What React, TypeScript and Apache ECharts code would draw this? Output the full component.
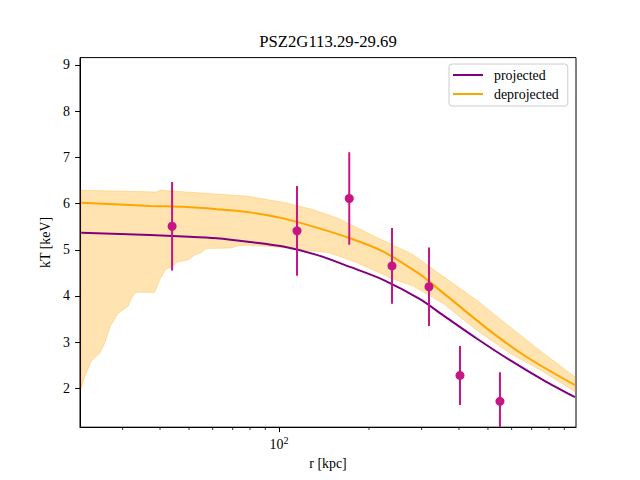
import React, { useEffect, useRef } from 'react';
import * as echarts from 'echarts';

const TITLE = 'PSZ2G113.29-29.69';
const X_NAME = 'r [kpc]';
const Y_NAME = 'kT [keV]';

// axis limits
const X_MIN = 21.6;
const X_MAX = 985;
const Y_MIN = 1.16;
const Y_MAX = 9.16;

// tick positions
const majorXTicks = [100];
const minorXTicks = [30, 40, 50, 60, 70, 80, 90, 200, 300, 400, 500, 600, 700, 800, 900];
const yTicks = [2, 3, 4, 5, 6, 7, 8, 9];

// projected temperature profile
const projR = [21.8, 37.0, 47.9, 61.9, 80.0, 103.4, 133.7, 172.8, 223.3, 296.2, 354.4, 458.4, 592.4, 765.6, 977];
const projT = [5.37, 5.32, 5.29, 5.25, 5.17, 5.07, 4.89, 4.63, 4.35, 3.93, 3.58, 3.08, 2.61, 2.18, 1.81];

// deprojected temperature profile
const deprojR = [21.8, 37.0, 47.9, 61.9, 80.0, 103.4, 133.7, 172.8, 223.3, 296.2, 319.9, 403.1, 521, 673.6, 977];
const deprojT = [6.02, 5.95, 5.93, 5.88, 5.81, 5.68, 5.48, 5.25, 4.96, 4.47, 4.3, 3.77, 3.19, 2.68, 2.07];

// deprojected uncertainty band
const bandUpperR = [21.8, 38.9, 39.9, 78.7, 104.7, 128.6, 157.9, 204.2, 280, 354.4, 458.4, 592.4, 765.6, 977];
const bandUpperT = [6.29, 6.25, 6.29, 6.16, 6.02, 5.88, 5.68, 5.32, 4.9, 4.42, 3.91, 3.33, 2.76, 2.25];
const bandLowerR = [
  21.8, 22.4, 23.5, 25.1, 26.1, 27.2, 28.9, 31.3, 32.1, 33.1, 38.4, 39.9, 41.7, 43.6, 45.9, 49.6,
  52.3, 55.0, 57.1, 69.3, 72.9, 78.7, 113.1, 122.2, 146.2, 179.6, 238.2, 280, 354.4, 458.4, 592.4,
  765.6, 977,
];
const bandLowerT = [
  2.0, 2.25, 2.58, 2.76, 2.97, 3.33, 3.62, 3.78, 3.95, 4.08, 4.08, 4.35, 4.58, 4.62, 4.74, 4.78,
  4.89, 4.94, 5.03, 5.04, 5.09, 5.1, 5.03, 4.99, 4.94, 4.74, 4.38, 4.22, 3.84, 3.26, 2.76, 2.36,
  1.93,
];

// measured spectral temperatures
const obsR = [43.9, 114.9, 171.8, 238.8, 317.5, 403.1, 548.4];
const obsT = [5.51, 5.41, 6.11, 4.65, 4.2, 2.28, 1.72];
const obsErr = [0.96, 0.97, 1.0, 0.82, 0.85, 0.64, 0.63];

const FONT = 'Liberation Serif';
const PURPLE = '#800080';
const ORANGE = '#FFA500';
const MAGENTA = '#C71585';

export default function App() {
  const ref = useRef<HTMLDivElement>(null);

  useEffect(() => {
    if (!ref.current) return;
    const chart = echarts.init(ref.current, undefined, { renderer: 'svg' });

    const option: any = {
      animation: false,
      backgroundColor: '#fff',
      textStyle: { fontFamily: FONT, color: '#000' },
      title: {
        text: TITLE,
        left: 328,
        top: 33,
        padding: 0,
        textAlign: 'center',
        textStyle: { fontFamily: FONT, fontSize: 16.7, fontWeight: 'normal', color: '#000' },
      },
      legend: {
        orient: 'vertical',
        left: 449,
        top: 64,
        padding: [3, 9, 4, 4],
        itemGap: 3,
        itemWidth: 30,
        itemHeight: 2,
        borderColor: '#cccccc',
        borderWidth: 1,
        borderRadius: 3,
        backgroundColor: 'rgba(255,255,255,0.8)',
        textStyle: { fontFamily: FONT, fontSize: 13.9, color: '#000', lineHeight: 16, padding: [0, 0, 0, 6] },
        data: [
          { name: 'projected', icon: 'rect', itemStyle: { color: PURPLE } },
          { name: 'deprojected', icon: 'rect', itemStyle: { color: ORANGE } },
        ],
      },
      grid: {
        left: 80,
        top: 57.6,
        width: 496,
        height: 369.6,
        show: true,
        borderColor: '#000',
        borderWidth: 1,
        backgroundColor: 'transparent',
        containLabel: false,
      },
      xAxis: {
        type: 'log',
        logBase: 10,
        min: X_MIN,
        max: X_MAX,
        name: X_NAME,
        nameLocation: 'middle',
        nameGap: 28,
        nameTextStyle: { fontFamily: FONT, fontSize: 13.9, color: '#000' },
        axisLine: { show: true, lineStyle: { color: '#000', width: 1 } },
        axisTick: { show: true, customValues: majorXTicks, length: 4.9, lineStyle: { color: '#000', width: 1 } },
        axisLabel: {
          customValues: majorXTicks,
          margin: 8,
          fontFamily: FONT,
          fontSize: 13.9,
          color: '#000',
          formatter: () => '{b|10}{s|2}',
          rich: {
            b: { fontFamily: FONT, fontSize: 13.9, color: '#000' },
            s: { fontFamily: FONT, fontSize: 10, color: '#000', padding: [0, 0, 8, 0] },
          },
        },
        splitLine: { show: false },
        minorTick: { show: false },
      },
      yAxis: {
        type: 'value',
        min: Y_MIN,
        max: Y_MAX,
        name: Y_NAME,
        nameLocation: 'middle',
        nameGap: 21,
        nameRotate: 90,
        nameTextStyle: { fontFamily: FONT, fontSize: 13.9, color: '#000' },
        axisLine: { show: true, lineStyle: { color: '#000', width: 1 } },
        axisTick: { show: true, customValues: yTicks, length: 4.9, lineStyle: { color: '#000', width: 1 } },
        axisLabel: {
          customValues: yTicks,
          margin: 10,
          fontFamily: FONT,
          fontSize: 13.9,
          color: '#000',
          formatter: (v: number) => String(Math.round(v)),
        },
        splitLine: { show: false },
      },
      series: [
        {
          name: 'band',
          type: 'custom',
          silent: true,
          z: 1,
          data: [[bandUpperR[0], bandUpperT[0]]],
          encode: { x: 0, y: 1 },
          renderItem: (_params: any, api: any) => {
            const pts: number[][] = [];
            for (let i = 0; i < bandUpperR.length; i++) pts.push(api.coord([bandUpperR[i], bandUpperT[i]]));
            for (let i = bandLowerR.length - 1; i >= 0; i--) pts.push(api.coord([bandLowerR[i], bandLowerT[i]]));
            return {
              type: 'polygon',
              shape: { points: pts },
              style: { fill: 'rgba(255,165,0,0.3)', stroke: 'rgba(255,165,0,0.3)', lineWidth: 1 },
            };
          },
        },
        {
          name: 'projected',
          type: 'line',
          z: 2,
          symbol: 'none',
          smooth: 0.3,
          color: PURPLE,
          lineStyle: { color: PURPLE, width: 2 },
          data: projR.map((r, i) => [r, projT[i]]),
        },
        {
          name: 'deprojected',
          type: 'line',
          z: 3,
          symbol: 'none',
          smooth: 0.3,
          color: ORANGE,
          lineStyle: { color: ORANGE, width: 2 },
          data: deprojR.map((r, i) => [r, deprojT[i]]),
        },
        {
          name: 'errors',
          type: 'custom',
          z: 4,
          clip: true,
          silent: true,
          data: obsR.map((r, i) => [r, obsT[i] - obsErr[i], obsT[i] + obsErr[i]]),
          encode: { x: 0, y: [1, 2] },
          renderItem: (_params: any, api: any) => {
            const lo = api.coord([api.value(0), api.value(1)]);
            const hi = api.coord([api.value(0), api.value(2)]);
            return {
              type: 'line',
              shape: { x1: lo[0], y1: lo[1], x2: hi[0], y2: hi[1] },
              style: { stroke: MAGENTA, lineWidth: 2 },
            };
          },
        },
        {
          name: 'data',
          type: 'scatter',
          z: 5,
          symbol: 'circle',
          symbolSize: 9,
          itemStyle: { color: MAGENTA, opacity: 1 },
          data: obsR.map((r, i) => [r, obsT[i]]),
        },
      ],
    };

    chart.setOption(option);

    // minor ticks of the logarithmic r axis, placed through the axis scale
    const minorTickLines = minorXTicks.map((v) => {
      const p = chart.convertToPixel({ xAxisIndex: 0, yAxisIndex: 0 }, [v, Y_MIN]) as number[];
      return {
        type: 'line',
        silent: true,
        z: 10,
        shape: { x1: p[0], y1: p[1], x2: p[0], y2: p[1] + 2.8 },
        style: { stroke: '#000', lineWidth: 0.8 },
      };
    });
    chart.setOption({ graphic: minorTickLines });

    return () => chart.dispose();
  }, []);

  return (
    <div
      ref={ref}
      style={{ position: 'fixed', left: 0, top: 0, width: 640, height: 480, background: '#fff' }}
    />
  );
}
